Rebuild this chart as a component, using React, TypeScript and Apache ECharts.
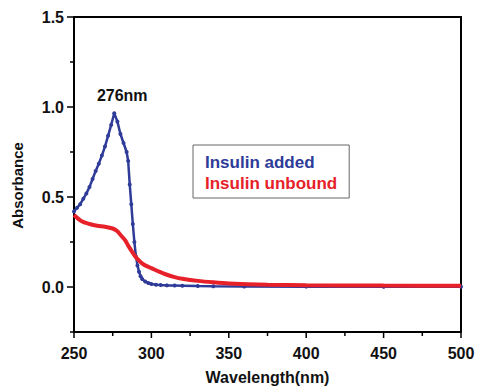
import React, { useEffect, useRef } from "react";
import * as echarts from "echarts";

const blueWavelength = [250, 252, 254, 256, 258, 260, 262, 264, 266, 268, 270, 272, 274, 276, 278, 280, 282, 284, 285, 286, 287, 288, 289, 290, 291, 292, 293, 294, 296, 298, 300, 303, 306, 310, 315, 320, 330, 340, 360, 400, 450, 500];
const blueAbsorbance = [0.42, 0.44, 0.46, 0.49, 0.52, 0.555, 0.6, 0.645, 0.685, 0.73, 0.78, 0.84, 0.9, 0.965, 0.92, 0.85, 0.8, 0.75, 0.7, 0.57, 0.46, 0.35, 0.25, 0.17, 0.12, 0.085, 0.06, 0.045, 0.03, 0.022, 0.017, 0.013, 0.011, 0.009, 0.008, 0.007, 0.005, 0.004, 0.003, 0.002, 0.001, 0.001];

const redWavelength = [250, 255, 260, 265, 270, 275, 278, 280, 283, 285, 288, 290, 295, 300, 305, 310, 315, 320, 330, 340, 350, 375, 400, 450, 500];
const redAbsorbance = [0.4, 0.365, 0.35, 0.34, 0.335, 0.325, 0.31, 0.29, 0.26, 0.23, 0.19, 0.165, 0.125, 0.105, 0.085, 0.068, 0.055, 0.046, 0.034, 0.026, 0.02, 0.013, 0.01, 0.008, 0.007];

const seriesNames = ["Insulin added", "Insulin unbound"];
const xMajorTicks = [250, 300, 350, 400, 450, 500];
const xMinorTicks = [275, 325, 375, 425, 475];
const yMajorTicks = [0, 0.5, 1.0, 1.5];
const yMinorTicks = [-0.25, 0.25, 0.75, 1.25];
const peakLabel = "276nm";

const FONT = "Liberation Sans, Arial, sans-serif";
const BLUE = "#2e3b98";
const RED = "#e62129";
const X_MIN = 250;
const X_MAX = 500;
const Y_MIN = -0.25;
const Y_MAX = 1.5;

export default function App() {
  const ref = useRef<HTMLDivElement>(null);
  useEffect(() => {
    if (!ref.current) return;
    const chart = echarts.init(ref.current, undefined, { renderer: "svg" });
    const blueData = blueWavelength.map((w, i) => [w, blueAbsorbance[i]]);
    const redData = redWavelength.map((w, i) => [w, redAbsorbance[i]]);
    // tick items: [value, axis (0 = x, 1 = y), length in px]
    const tickData = [
      ...xMajorTicks.map((v) => [v, 0, 6]),
      ...xMinorTicks.map((v) => [v, 0, 4]),
      ...yMajorTicks.map((v) => [v, 1, 7]),
      ...yMinorTicks.map((v) => [v, 1, 4]),
    ];
    const labelStyle = { color: "#111", fontFamily: FONT, fontWeight: "bold" as const, fontSize: 16 };
    const frameLine = { show: true, onZero: false, lineStyle: { color: "#000", width: 2 } };
    chart.setOption({
      animation: false,
      grid: { left: 74, right: 40, top: 17, bottom: 58 },
      legend: {
        left: 193,
        top: 145,
        orient: "vertical",
        data: [
          { name: seriesNames[0], icon: "none", textStyle: { color: BLUE } },
          { name: seriesNames[1], icon: "none", textStyle: { color: RED } },
        ],
        itemWidth: 0,
        itemHeight: 14,
        itemGap: 1,
        padding: [7, 12, 5, 7],
        borderColor: "#666",
        borderWidth: 1,
        textStyle: { fontFamily: FONT, fontWeight: "bold", fontSize: 17, lineHeight: 20 },
        selectedMode: false,
      },
      xAxis: [
        {
          type: "value",
          min: X_MIN,
          max: X_MAX,
          interval: 50,
          position: "bottom",
          name: "Wavelength(nm)",
          nameLocation: "middle",
          nameGap: 37,
          nameTextStyle: labelStyle,
          axisLine: frameLine,
          axisTick: { show: false },
          axisLabel: { ...labelStyle, margin: 13 },
          splitLine: { show: false },
        },
        {
          type: "value",
          min: X_MIN,
          max: X_MAX,
          position: "top",
          axisLine: frameLine,
          axisTick: { show: false },
          axisLabel: { show: false },
          splitLine: { show: false },
        },
      ],
      yAxis: [
        {
          type: "value",
          min: Y_MIN,
          max: Y_MAX,
          interval: 0.25,
          position: "left",
          name: "Absorbance",
          nameLocation: "middle",
          nameGap: 49,
          nameTextStyle: { ...labelStyle, fontSize: 15, padding: [0, 22, 0, 0] },
          axisLine: frameLine,
          axisTick: { show: false },
          axisLabel: {
            ...labelStyle,
            margin: 10,
            formatter: (v: number) => (yMajorTicks.some((t) => Math.abs(t - v) < 1e-9) ? v.toFixed(1) : ""),
          },
          splitLine: { show: false },
        },
        {
          type: "value",
          min: Y_MIN,
          max: Y_MAX,
          position: "right",
          axisLine: frameLine,
          axisTick: { show: false },
          axisLabel: { show: false },
          splitLine: { show: false },
        },
      ],
      series: [
        {
          type: "custom",
          xAxisIndex: 0,
          yAxisIndex: 0,
          clip: false,
          silent: true,
          data: tickData,
          z: 5,
          renderItem: (_params: any, api: any) => {
            const v = api.value(0);
            const axis = api.value(1);
            const len = api.value(2);
            if (axis === 0) {
              const p = api.coord([v, Y_MIN]);
              return { type: "line", shape: { x1: p[0], y1: p[1], x2: p[0], y2: p[1] + len }, style: { stroke: "#000", lineWidth: 1.5 } };
            }
            const p = api.coord([X_MIN, v]);
            return { type: "line", shape: { x1: p[0] - len, y1: p[1], x2: p[0], y2: p[1] }, style: { stroke: "#000", lineWidth: 1.5 } };
          },
        },
        {
          name: seriesNames[0],
          type: "line",
          data: blueData,
          color: BLUE,
          symbol: "circle",
          symbolSize: 4,
          showSymbol: true,
          lineStyle: { width: 2.5, color: BLUE },
          itemStyle: { color: BLUE },
          markPoint: {
            symbol: "circle",
            symbolSize: 0,
            data: [{ coord: [276, 0.965], value: peakLabel }],
            label: { show: true, position: "top", distance: 10, offset: [8, 0], formatter: peakLabel, ...labelStyle },
          },
          z: 2,
        },
        {
          name: seriesNames[1],
          type: "line",
          data: redData,
          color: RED,
          smooth: 0.3,
          showSymbol: false,
          lineStyle: { width: 4, color: RED },
          itemStyle: { color: RED },
          z: 3,
        },
      ],
    });
    return () => chart.dispose();
  }, []);
  return <div ref={ref} style={{ position: "absolute", left: 0, top: 0, width: 501, height: 390 }} />;
}
